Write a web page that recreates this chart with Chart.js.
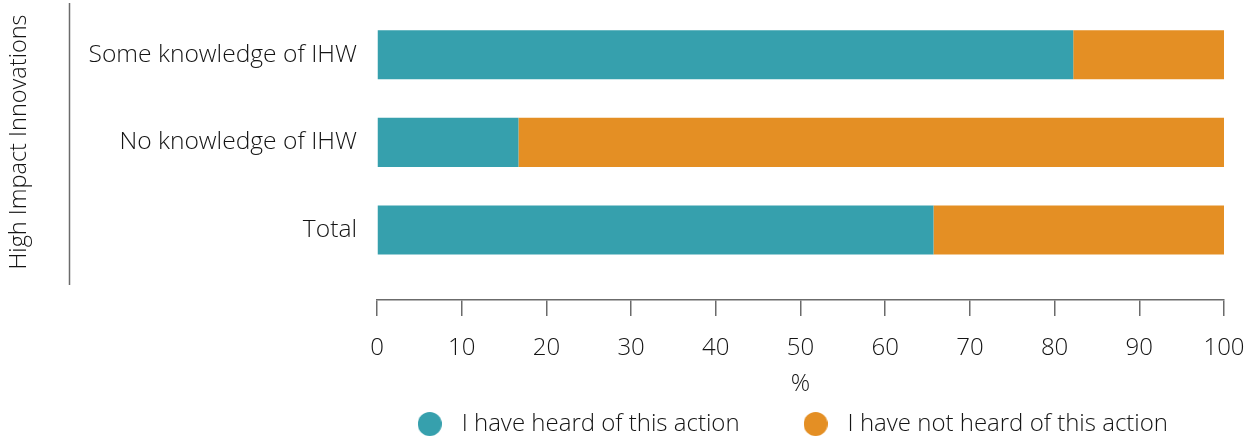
<!DOCTYPE html>
<html>
<head>
<meta charset="utf-8">
<script src="https://cdn.jsdelivr.net/npm/chart.js@4/dist/chart.umd.min.js"></script>
<style>
  html, body { margin: 0; padding: 0; background: #fff; }
  #wrap { width: 1245px; height: 441px; }
</style>
</head>
<body>
<div id="wrap"><canvas id="awareness-chart"></canvas></div>
<script>
const groups = ["Some knowledge of IHW", "No knowledge of IHW", "Total"];
const heard = [82.2, 16.7, 65.7];
const notHeard = [17.8, 83.3, 34.3];
const xTicks = [0, 10, 20, 30, 40, 50, 60, 70, 80, 90, 100];
const seriesNames = ["I have heard of this action", "I have not heard of this action"];
const sideTitle = "High Impact Innovations";

const FONT = "'Open Sans', sans-serif";
const WEIGHT = 300;
const TEXT = "#141414";
const AXIS = "#6b6b6b";
const TEAL = "#36a0ad";
const ORANGE = "#e48f24";

// round legend marker, drawn once per series colour
function dot(color, d) {
	const c = document.createElement("canvas");
	c.width = d;
	c.height = d;
	const g = c.getContext("2d");
	g.fillStyle = color;
	g.beginPath();
	g.arc(d / 2, d / 2, d / 2, 0, Math.PI * 2);
	g.fill();
	return c;
}

// rotated group title with the thin rule beside it
const sideBracket = {
	id: "sideBracket",
	afterDraw(chart) {
		const ctx = chart.ctx;
		ctx.save();
		ctx.strokeStyle = AXIS;
		ctx.lineWidth = 1.5;
		ctx.beginPath();
		ctx.moveTo(69.5, 3);
		ctx.lineTo(69.5, 285);
		ctx.stroke();
		ctx.translate(19, 142);
		ctx.rotate(-Math.PI / 2);
		ctx.font = `${WEIGHT} 23.5px ${FONT}`;
		ctx.fillStyle = TEXT;
		ctx.textAlign = "center";
		ctx.textBaseline = "middle";
		ctx.fillText(sideTitle, 0, 0);
		ctx.restore();
	},
};

function rows(values) {
	return values.map((v, i) => ({ x: v, y: i }));
}

const font = (size) => ({ family: FONT, size: size, weight: WEIGHT });

new Chart(document.getElementById("awareness-chart"), {
	type: "bar",
	data: {
		datasets: [
			{
				label: seriesNames[0],
				data: rows(heard),
				backgroundColor: TEAL,
				barPercentage: 0.56,
				categoryPercentage: 1,
			},
			{
				label: seriesNames[1],
				data: rows(notHeard),
				backgroundColor: ORANGE,
				barPercentage: 0.56,
				categoryPercentage: 1,
			},
		],
	},
	options: {
		indexAxis: "y",
		responsive: true,
		maintainAspectRatio: false,
		animation: false,
		layout: { padding: { top: 11, left: 0, right: 21, bottom: -5 } },
		plugins: {
			tooltip: { enabled: false },
			legend: {
				position: "bottom",
				align: "end",
				labels: {
					usePointStyle: true,
					pointStyleWidth: 40,
					boxHeight: 17,
					padding: 56,
					color: TEXT,
					font: font(24),
					generateLabels: (chart) =>
						Chart.defaults.plugins.legend.labels
							.generateLabels(chart)
							.map((item, i) => ({
								...item,
								pointStyle: dot(chart.data.datasets[i].backgroundColor, 24),
							})),
				},
			},
		},
		scales: {
			x: {
				type: "linear",
				stacked: true,
				min: 0,
				max: 100,
				afterBuildTicks: (s) => {
					s.ticks = xTicks.map((v) => ({ value: v }));
				},
				afterFit: (s) => {
					s.height = 56;
					s.paddingLeft = 0;
					s.paddingRight = 0;
				},
				grid: {
					drawOnChartArea: false,
					tickLength: 16,
					color: AXIS,
					lineWidth: 1.5,
				},
				border: { display: true, color: AXIS, width: 1.5 },
				ticks: {
					padding: 18,
					color: TEXT,
					font: font(24),
				},
				title: {
					display: true,
					text: "%",
					color: TEXT,
					font: font(24),
					padding: { top: 0, bottom: -43 },
				},
			},
			y: {
				type: "linear",
				stacked: true,
				reverse: true,
				offset: false,
				min: -0.5,
				max: 2.8,
				afterBuildTicks: (s) => {
					s.ticks = groups.map((_, i) => ({ value: i }));
				},
				afterFit: (s) => {
					s.width = 377;
					s.paddingTop = 0;
					s.paddingBottom = 0;
				},
				grid: { display: false, drawTicks: false },
				border: { display: false },
				ticks: {
					padding: 20,
					color: TEXT,
					font: font(24.6),
					callback: (v) => groups[v],
				},
			},
		},
	},
	plugins: [sideBracket],
});
</script>
</body>
</html>
